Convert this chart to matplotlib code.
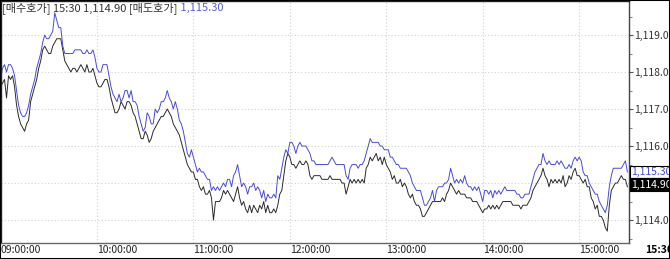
import numpy as np
import matplotlib
matplotlib.use("Agg")
import matplotlib.pyplot as plt
from matplotlib.patches import Rectangle
from matplotlib.ticker import FixedLocator, MultipleLocator, FuncFormatter

plt.rcParams['font.family'] = ['Noto Sans CJK KR', 'DejaVu Sans']

# quotes sampled every 1.25 min from 09:00 to 15:30
step_min = 1.25

# 매도호가 (ask)
ask = [
    1117.8, 1118.1, 1118.2, 1118.0, 1118.2, 1118.2, 1118.1, 1117.9, 1117.5, 1117.1,
    1116.9, 1116.8, 1116.8, 1116.9, 1117.1, 1117.4, 1117.6, 1117.8, 1118.1, 1118.3,
    1118.5, 1118.8, 1119.0, 1118.9, 1118.9, 1119.0, 1119.1, 1119.6, 1119.4, 1119.2,
    1119.2, 1118.7, 1118.5, 1118.5, 1118.5, 1118.5, 1118.5, 1118.6, 1118.6, 1118.6,
    1118.6, 1118.5, 1118.5, 1118.6, 1118.5, 1118.5, 1118.6, 1118.4, 1118.1, 1118.0,
    1118.0, 1118.2, 1118.2, 1118.2, 1117.9, 1117.6, 1117.4, 1117.3, 1117.2, 1117.4,
    1117.2, 1117.3, 1117.5, 1117.5, 1117.3, 1117.5, 1117.2, 1117.2, 1117.1, 1116.8,
    1116.6, 1116.4, 1116.5, 1116.9, 1116.8, 1116.6, 1116.6, 1117.0, 1116.9, 1117.0,
    1117.2, 1117.2, 1117.3, 1117.5, 1117.3, 1117.2, 1117.0, 1117.2, 1117.0, 1116.7,
    1116.6, 1116.4, 1116.1, 1115.8, 1115.7, 1115.9, 1115.7, 1115.5, 1115.3, 1115.4,
    1115.3, 1115.3, 1115.2, 1115.1, 1115.1, 1114.8, 1114.9, 1114.8, 1114.9, 1114.8,
    1114.9, 1115.0, 1114.9, 1115.1, 1115.1, 1114.9, 1115.2, 1115.3, 1115.5, 1115.2,
    1114.9, 1115.0, 1114.9, 1114.7, 1114.9, 1114.9, 1115.0, 1114.8, 1114.9, 1114.8,
    1114.6, 1114.8, 1114.5, 1114.7, 1114.6, 1114.6, 1114.7, 1114.6, 1115.2, 1115.1,
    1115.4, 1115.7, 1115.9, 1115.8, 1116.1, 1116.1, 1116.0, 1115.8, 1116.0, 1116.1,
    1116.0, 1116.0, 1116.0, 1115.9, 1115.8, 1115.6, 1115.6, 1115.5, 1115.5, 1115.5,
    1115.5, 1115.5, 1115.5, 1115.5, 1115.6, 1115.7, 1115.6, 1115.5, 1115.5, 1115.5,
    1115.5, 1115.5, 1115.2, 1115.1, 1115.4, 1115.5, 1115.5, 1115.5, 1115.4, 1115.5,
    1115.5, 1115.6, 1115.8, 1116.0, 1116.2, 1116.1, 1116.1, 1116.1, 1116.1, 1116.0,
    1116.0, 1115.9, 1115.9, 1115.9, 1115.7, 1115.7, 1115.6, 1115.5, 1115.5, 1115.4,
    1115.4, 1115.4, 1115.4, 1115.3, 1115.2, 1115.0, 1114.9, 1114.8, 1114.8, 1114.8,
    1114.6, 1114.4, 1114.4, 1114.5, 1114.6, 1114.8, 1114.5, 1114.8, 1114.9, 1114.9,
    1114.9, 1115.0, 1115.0, 1115.1, 1115.4, 1115.2, 1115.0, 1115.1, 1115.0, 1115.1,
    1115.0, 1115.2, 1115.0, 1114.9, 1114.9, 1114.8, 1114.9, 1114.8, 1114.9, 1114.7,
    1114.5, 1114.8, 1114.8, 1114.7, 1114.8, 1114.6, 1114.8, 1114.7, 1114.8, 1114.7,
    1114.8, 1114.9, 1114.8, 1114.8, 1114.8, 1114.8, 1114.8, 1114.7, 1114.7, 1114.6,
    1114.6, 1114.7, 1114.7, 1114.7, 1114.9, 1115.1, 1115.3, 1115.4, 1115.5, 1115.5,
    1115.8, 1115.6, 1115.5, 1115.6, 1115.5, 1115.5, 1115.5, 1115.6, 1115.5, 1115.6,
    1115.5, 1115.4, 1115.4, 1115.5, 1115.4, 1115.6, 1115.7, 1115.6, 1115.7, 1115.6,
    1115.3, 1115.2, 1115.2, 1115.0, 1114.9, 1114.8, 1114.7, 1114.7, 1114.5, 1114.4,
    1114.3, 1114.2, 1114.4, 1114.9, 1115.2, 1115.4, 1115.4, 1115.4, 1115.4, 1115.4,
    1115.5, 1115.6, 1115.3,
]

# 매수호가 (bid)
bid = [
    1117.6, 1117.7, 1117.8, 1117.3, 1117.9, 1117.8, 1117.9, 1117.6, 1117.1, 1116.8,
    1116.6, 1116.5, 1116.4, 1116.6, 1116.7, 1117.2, 1117.4, 1117.6, 1117.8, 1118.1,
    1118.3, 1118.6, 1118.7, 1118.6, 1118.5, 1118.5, 1118.7, 1118.8, 1118.9, 1118.9,
    1118.9, 1118.6, 1118.3, 1118.2, 1118.1, 1118.0, 1118.1, 1118.1, 1118.0, 1118.1,
    1118.2, 1118.1, 1118.0, 1118.2, 1118.0, 1118.0, 1118.1, 1117.9, 1117.7, 1117.6,
    1117.6, 1117.7, 1117.8, 1117.8, 1117.6, 1117.3, 1117.1, 1116.9, 1116.9, 1117.0,
    1117.2, 1117.1, 1117.0, 1117.2, 1117.2, 1117.1, 1116.9, 1116.8, 1116.6, 1116.4,
    1116.2, 1116.2, 1116.4, 1116.3, 1116.1, 1116.2, 1116.4, 1116.5, 1116.6, 1116.7,
    1116.8, 1116.8, 1116.9, 1117.0, 1116.9, 1116.8, 1116.6, 1116.5, 1116.4, 1116.3,
    1116.1, 1115.9, 1115.7, 1115.5, 1115.4, 1115.3, 1115.3, 1115.1, 1115.1, 1114.9,
    1114.8, 1114.9, 1114.7, 1114.7, 1114.8, 1114.6, 1114.0, 1114.5, 1114.5, 1114.5,
    1114.6, 1114.8, 1114.7, 1114.8, 1114.7, 1114.6, 1114.5, 1114.7, 1114.9, 1114.6,
    1114.4, 1114.5, 1114.3, 1114.2, 1114.4, 1114.2, 1114.4, 1114.3, 1114.2, 1114.4,
    1114.3, 1114.5, 1114.2, 1114.4, 1114.2, 1114.2, 1114.3, 1114.2, 1114.4, 1114.7,
    1114.8, 1115.2, 1115.6, 1115.8, 1115.7, 1115.5, 1115.5, 1115.4, 1115.5, 1115.6,
    1115.5, 1115.5, 1115.6, 1115.5, 1115.2, 1115.1, 1115.2, 1115.2, 1115.2, 1115.2,
    1115.1, 1115.1, 1115.1, 1115.1, 1115.2, 1115.1, 1115.1, 1115.1, 1115.1, 1115.1,
    1115.0, 1115.0, 1114.7, 1114.9, 1115.1, 1115.0, 1115.1, 1115.0, 1115.1, 1115.0,
    1115.1, 1115.0, 1115.4, 1115.5, 1115.7, 1115.6, 1115.7, 1115.8, 1115.6, 1115.7,
    1115.5, 1115.7, 1115.5, 1115.4, 1115.3, 1115.1, 1115.2, 1115.0, 1115.0, 1115.1,
    1114.9, 1115.0, 1114.9, 1114.7, 1114.6, 1114.7, 1114.5, 1114.4, 1114.4, 1114.3,
    1114.1, 1114.1, 1114.2, 1114.3, 1114.4, 1114.5, 1114.5, 1114.5, 1114.5, 1114.5,
    1114.6, 1114.5, 1114.7, 1114.8, 1115.0, 1114.9, 1114.8, 1114.7, 1114.8, 1114.7,
    1114.7, 1114.7, 1114.6, 1114.6, 1114.6, 1114.5, 1114.5, 1114.5, 1114.4, 1114.3,
    1114.2, 1114.3, 1114.3, 1114.4, 1114.3, 1114.4, 1114.3, 1114.4, 1114.3, 1114.4,
    1114.5, 1114.5, 1114.5, 1114.5, 1114.5, 1114.4, 1114.4, 1114.4, 1114.4, 1114.3,
    1114.4, 1114.4, 1114.4, 1114.5, 1114.6, 1114.8, 1114.9, 1115.0, 1115.1, 1115.2,
    1115.4, 1115.2, 1115.1, 1114.9, 1115.1, 1115.0, 1115.1, 1115.0, 1115.1, 1115.0,
    1115.2, 1114.9, 1115.0, 1115.2, 1115.1, 1115.3, 1115.4, 1115.2, 1115.2, 1115.1,
    1115.0, 1115.1, 1114.9, 1114.9, 1114.6, 1114.5, 1114.3, 1114.4, 1114.1, 1114.1,
    1114.0, 1113.8, 1113.7, 1114.4, 1114.8, 1114.9, 1115.0, 1115.0, 1115.1, 1115.2,
    1115.1, 1115.1, 1114.9,
]

time_ticks = [0, 60, 120, 180, 240, 300, 360]
time_labels = ["09:00:00", "10:00:00", "11:00:00", "12:00:00",
               "13:00:00", "14:00:00", "15:00:00"]
price_ticks = [1114, 1115, 1116, 1117, 1118, 1119]
last_time = "15:30"

minutes = np.arange(len(ask)) * step_min

W, H = 670, 259
fig = plt.figure(figsize=(W / 100, H / 100), dpi=100)
ax = fig.add_axes([0.5 / W, 1 - 243 / H, 628.5 / W, 242 / H])

ax.plot(minutes, bid, color='#2a2a2a', lw=0.7)
ax.plot(minutes, ask, color='#4a4ad8', lw=0.7)

ax.set_xlim(0, 391)
ax.set_ylim(1113.38, 1119.92)

# grid
ax.grid(True, color='#d2d2d2', linestyle=(0, (1, 2)), lw=0.8)
ax.set_axisbelow(True)

# x axis: time labels left-aligned at the grid line
ax.xaxis.set_major_locator(FixedLocator(time_ticks))
ax.set_xticklabels(time_labels, fontsize=7.5, color='#222222')
for lab in ax.get_xticklabels():
    lab.set_horizontalalignment('left')
ax.tick_params(axis='x', length=0, pad=1.5)

# y axis on the right (1,115.00 sits under the current-quote boxes)
ax.yaxis.tick_right()
ax.yaxis.set_major_locator(FixedLocator(price_ticks))
ax.yaxis.set_minor_locator(MultipleLocator(0.5))
ax.yaxis.set_major_formatter(
    FuncFormatter(lambda v, p: "" if abs(v - 1115) < 0.01 else f"{v:,.2f}"))
ax.tick_params(axis='y', which='major', length=3, width=0.8, color='#555555',
               labelsize=7.5, labelcolor='#333333', pad=1)
ax.tick_params(axis='y', which='minor', length=2, width=0.8, color='#888888')

for side in ['top', 'left']:
    ax.spines[side].set_color('#222222')
    ax.spines[side].set_linewidth(1)
ax.spines['right'].set_color('#444444')
ax.spines['right'].set_linewidth(1)
ax.spines['bottom'].set_color('#666666')
ax.spines['bottom'].set_linewidth(1)

# current quote boxes on the price scale
ytr = ax.get_yaxis_transform()
ax.text(1.004, ask[-1], f"{ask[-1]:,.2f}", transform=ytr, fontsize=7.5,
        color='#4a4ad8', va='center', ha='left', clip_on=False, zorder=5,
        bbox=dict(boxstyle='square,pad=0.12', fc='white', ec='black', lw=0.8))
ax.text(1.004, bid[-1] + 0.06, f"{bid[-1]:,.2f}", transform=ytr, fontsize=7.5,
        color='white', va='center', ha='left', clip_on=False, zorder=6,
        bbox=dict(boxstyle='square,pad=0.12', fc='black', ec='black', lw=0.8))

# last time label under the price scale
ax.text(1.025, -0.03, last_time, transform=ax.transAxes, fontsize=7.5,
        fontweight='bold', color='black', va='center', ha='left', clip_on=False)

# header line
t1 = ax.text(0.003, 0.97, f"[매수호가] {last_time} {bid[-1]:,.2f} [매도호가]",
             transform=ax.transAxes, fontsize=8, color='#333333',
             va='center', ha='left')
ax.annotate(f" {ask[-1]:,.2f}", xy=(1, 0.5), xycoords=t1, fontsize=8,
            color='#5a5ad8', va='center', ha='left', annotation_clip=False)

# outer frame
fig.add_artist(Rectangle((0, 0), 1, 1, transform=fig.transFigure, fill=False,
                         ec='black', lw=1.5))

fig.savefig("out.png", dpi=100)
